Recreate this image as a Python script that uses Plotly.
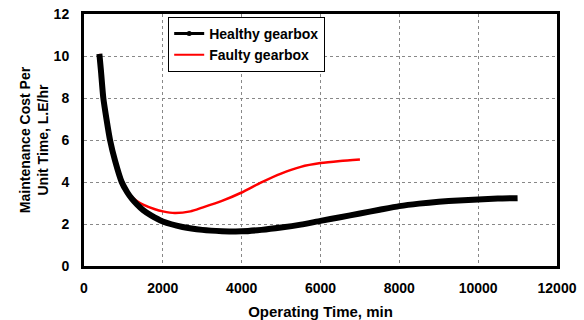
import plotly.graph_objects as go

healthy_x = [390, 430, 490, 570, 660, 790, 956, 1100, 1207, 1350, 1500, 1700, 2000, 2500, 3000,
             3500, 4000, 4500, 5000, 5500, 6000, 6500, 7000, 7500, 8000, 8500, 9000, 9500,
             10000, 10500, 11000]
healthy_y = [10.1, 9.3, 8.0, 7.0, 6.0, 5.0, 4.0, 3.5, 3.22, 2.92, 2.66, 2.41, 2.12, 1.86, 1.72,
             1.66, 1.65, 1.72, 1.83, 1.97, 2.15, 2.32, 2.5, 2.68, 2.85, 2.97, 3.06, 3.12,
             3.17, 3.21, 3.23]

faulty_x = [390, 430, 490, 570, 660, 790, 956, 1100, 1207, 1350, 1500, 1800, 2000, 2300, 2700,
            3000, 3500, 4000, 4500, 5000, 5500, 6000, 6500, 7000]
faulty_y = [10.1, 9.3, 8.0, 7.0, 6.0, 5.0, 4.0, 3.55, 3.3, 3.08, 2.92, 2.7, 2.6, 2.52, 2.6,
            2.78, 3.1, 3.5, 3.98, 4.4, 4.72, 4.9, 5.0, 5.07]

x_ticks = [0, 2000, 4000, 6000, 8000, 10000, 12000]
y_ticks = [0, 2, 4, 6, 8, 10, 12]

FONT = "Liberation Sans, Arial, sans-serif"

fig = go.Figure()
fig.add_trace(go.Scatter(x=faulty_x, y=faulty_y, mode="lines",
                         line=dict(color="#ff0000", width=2.5, shape="spline", smoothing=0.6),
                         showlegend=False))
fig.add_trace(go.Scatter(x=healthy_x, y=healthy_y, mode="lines",
                         line=dict(color="black", width=6, shape="spline", smoothing=0.6),
                         showlegend=False))
# legend entries
fig.add_trace(go.Scatter(x=[None], y=[None], mode="lines+markers", name="Healthy gearbox",
                         line=dict(color="black", width=3), marker=dict(color="black", size=5)))
fig.add_trace(go.Scatter(x=[None], y=[None], mode="lines", name="Faulty gearbox",
                         line=dict(color="#ff0000", width=2)))

axis_common = dict(showline=True, linecolor="black", linewidth=3, mirror=True,
                   showgrid=True, gridcolor="#888888", griddash="dot", gridwidth=1,
                   zeroline=False, ticks="", automargin=False,
                   tickfont=dict(family=FONT, size=14, color="black", weight="bold"))

fig.update_xaxes(range=[0, 12000], tickvals=x_ticks, ticktext=[str(v) for v in x_ticks],
                 ticklabelstandoff=7,
                 title=dict(text="Operating Time, min", standoff=12,
                            font=dict(family=FONT, size=15, color="black", weight="bold")),
                 **axis_common)
fig.update_yaxes(range=[0, 12], tickvals=y_ticks, ticktext=[str(v) for v in y_ticks],
                 ticklabelstandoff=9,
                 title=dict(text="Maintenance Cost Per<br>Unit Time, L.E/hr", standoff=2,
                            font=dict(family=FONT, size=14, color="black", weight="bold")),
                 **axis_common)

fig.update_layout(
    width=584, height=320,
    margin=dict(l=84, r=27, t=14, b=54),
    paper_bgcolor="white", plot_bgcolor="white",
    font=dict(family=FONT, color="black"),
    legend=dict(x=0.178, y=0.988, xanchor="left", yanchor="top",
                bgcolor="white", bordercolor="black", borderwidth=1,
                font=dict(family=FONT, size=14, color="black", weight="bold"),
                tracegroupgap=0, itemwidth=30),
)

fig.write_html("out.html")
